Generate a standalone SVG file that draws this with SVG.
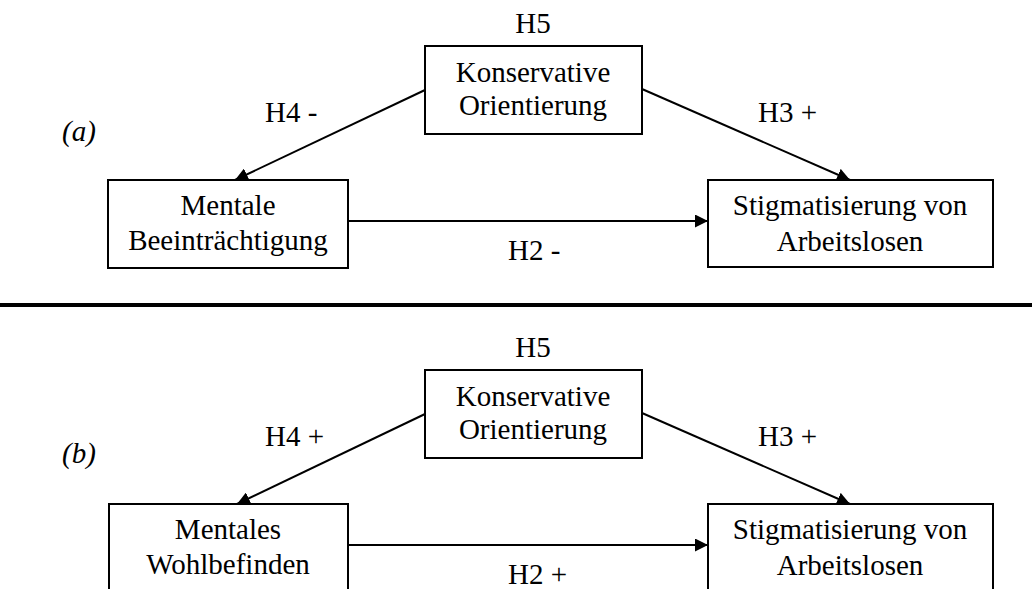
<svg xmlns="http://www.w3.org/2000/svg" width="1032" height="589" viewBox="0 0 1032 589">
<defs>
<style>
text{font-family:"Liberation Serif","Times New Roman",serif;font-size:29px;fill:#000}
.c{text-anchor:middle}
.i{font-style:italic}
.box{fill:#fff;stroke:#000;stroke-width:2}
.edge{stroke:#000;stroke-width:2;fill:none;marker-end:url(#ah)}
</style>
<marker id="ah" viewBox="0 0 10 10" refX="10" refY="5" markerWidth="6.5" markerHeight="6.5" markerUnits="strokeWidth" orient="auto">
<path d="M0,0 L10,5 L0,10 z" fill="#000"/>
</marker>
</defs>
<rect width="1032" height="589" fill="#fff"/>
<g id="connectors">
<line class="edge" x1="425" y1="90" x2="235" y2="180"/>
<line class="edge" x1="642" y1="89" x2="850" y2="180"/>
<line class="edge" x1="348" y1="221" x2="708" y2="221"/>
<line class="edge" x1="425" y1="414" x2="237" y2="504"/>
<line class="edge" x1="642" y1="413" x2="850" y2="504"/>
<line class="edge" x1="348" y1="545" x2="708" y2="545"/>
</g>
<line id="divider" x1="0" y1="305" x2="1032" y2="305" stroke="#000" stroke-width="4"/>
<g id="label-a"><text class="i" x="62" y="141">(a)</text></g>
<g id="label-b"><text class="i" x="62" y="463">(b)</text></g>
<g id="a-konservative">
<text class="c" x="533" y="33">H5</text>
<rect class="box" x="425" y="46" width="217" height="88"/>
<text class="c" x="533" y="82">Konservative</text>
<text class="c" x="533" y="115">Orientierung</text>
</g>
<g id="a-mentale">
<rect class="box" x="108" y="180" width="240" height="88"/>
<text class="c" x="228" y="215">Mentale</text>
<text class="c" x="228" y="250">Beeinträchtigung</text>
</g>
<g id="a-stigma">
<rect class="box" x="708" y="180" width="285" height="87"/>
<text class="c" x="850" y="215">Stigmatisierung von</text>
<text class="c" x="850" y="251">Arbeitslosen</text>
</g>
<g id="a-labels">
<text x="265" y="122">H4 -</text>
<text x="758" y="122">H3 +</text>
<text x="508" y="260">H2 -</text>
</g>
<g id="b-konservative">
<text class="c" x="533" y="357">H5</text>
<rect class="box" x="425" y="370" width="217" height="88"/>
<text class="c" x="533" y="406">Konservative</text>
<text class="c" x="533" y="439">Orientierung</text>
</g>
<g id="b-mentales">
<rect class="box" x="109" y="504" width="239" height="100"/>
<text class="c" x="228" y="539">Mentales</text>
<text class="c" x="228" y="574">Wohlbefinden</text>
</g>
<g id="b-stigma">
<rect class="box" x="708" y="504" width="285" height="100"/>
<text class="c" x="850" y="539">Stigmatisierung von</text>
<text class="c" x="850" y="575">Arbeitslosen</text>
</g>
<g id="b-labels">
<text x="265" y="446">H4 +</text>
<text x="758" y="446">H3 +</text>
<text x="508" y="584">H2 +</text>
</g>
</svg>
